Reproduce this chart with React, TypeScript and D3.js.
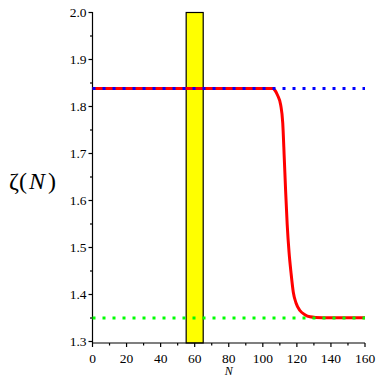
import { useRef, useEffect } from 'react';
import * as d3 from 'd3';

const W = 382;
const H = 382;

// red curve
const curveN = [0, 106.0, 107.0, 108.6, 110.5, 111.7, 112.6, 113.4, 114.3, 115.4, 116.6, 117.9, 119.5, 121.8, 124.7, 127.7, 131, 140, 160];
const curveZeta = [1.8385, 1.8383, 1.835, 1.8245, 1.803, 1.765, 1.69, 1.62, 1.55, 1.49, 1.445, 1.405, 1.382, 1.366, 1.357, 1.3525, 1.3512, 1.3505, 1.3503];

const upperLevel = 1.8385;
const lowerLevel = 1.35;
const band = [55, 65];

const xTicks = [0, 20, 40, 60, 80, 100, 120, 140, 160];
const xMinor = [10, 30, 50, 70, 90, 110, 130, 150];
const yTicks = [1.3, 1.4, 1.5, 1.6, 1.7, 1.8, 1.9, 2.0];
const yMinor = [1.35, 1.45, 1.55, 1.65, 1.75, 1.85, 1.95];

export default function App() {
  const svgRef = useRef<SVGSVGElement>(null);

  useEffect(() => {
    const svg = d3.select(svgRef.current);
    svg.selectAll('*').remove();

    const x = d3.scaleLinear().domain([0, 160]).range([92.5, 365]);
    const y = d3.scaleLinear().domain([1.3, 2.0]).range([341.5, 12.5]);
    const axisY = 343;
    const font = "'Liberation Serif', 'Times New Roman', serif";

    // yellow band
    svg.append('rect')
      .attr('x', x(band[0]))
      .attr('y', y(2.0))
      .attr('width', x(band[1]) - x(band[0]))
      .attr('height', axisY - y(2.0))
      .attr('fill', '#ffff00')
      .attr('stroke', '#000')
      .attr('stroke-width', 1.2);

    // axes
    const ax = svg.append('g').attr('stroke', '#000').attr('stroke-width', 1.2);
    ax.append('line').attr('x1', x(0)).attr('x2', x(0)).attr('y1', y(2.0) - 0.5).attr('y2', axisY);
    ax.append('line').attr('x1', x(0)).attr('x2', x(160)).attr('y1', axisY).attr('y2', axisY);

    yTicks.forEach((t) => {
      ax.append('line').attr('x1', x(0) - 4).attr('x2', x(0)).attr('y1', y(t)).attr('y2', y(t));
    });
    yMinor.forEach((t) => {
      ax.append('line').attr('x1', x(0) - 2.5).attr('x2', x(0)).attr('y1', y(t)).attr('y2', y(t));
    });
    xTicks.forEach((t) => {
      ax.append('line').attr('x1', x(t)).attr('x2', x(t)).attr('y1', axisY).attr('y2', axisY + 4);
    });
    xMinor.forEach((t) => {
      ax.append('line').attr('x1', x(t)).attr('x2', x(t)).attr('y1', axisY).attr('y2', axisY + 2.5);
    });

    svg.append('g')
      .selectAll('text')
      .data(yTicks)
      .join('text')
      .attr('x', x(0) - 6)
      .attr('y', (d) => y(d) + 4.5)
      .attr('text-anchor', 'end')
      .style('font-family', font)
      .attr('font-size', 13.5)
      .text((d) => d.toFixed(1));

    svg.append('g')
      .selectAll('text')
      .data(xTicks)
      .join('text')
      .attr('x', (d) => x(d))
      .attr('y', 362.5)
      .attr('text-anchor', 'middle')
      .style('font-family', font)
      .attr('font-size', 13.5)
      .text((d) => String(d));

    svg.append('text')
      .attr('x', x(80))
      .attr('y', 375)
      .attr('text-anchor', 'middle')
      .style('font-family', font)
      .attr('font-style', 'italic')
      .attr('font-size', 12)
      .text('N');

    const yl = svg.append('text')
      .attr('x', 9)
      .attr('y', 189)
      .style('font-family', font)
      .attr('font-size', 24);
    yl.append('tspan').text('ζ(');
    yl.append('tspan').attr('dx', 2).attr('font-style', 'italic').text('N');
    yl.append('tspan').attr('dx', 3).text(')');

    // red curve
    const pts: [number, number][] = curveN.map((n, i) => [n, curveZeta[i]]);
    const line = d3.line<[number, number]>()
      .x((d) => x(d[0]))
      .y((d) => y(d[1]))
      .curve(d3.curveMonotoneX);
    svg.append('path')
      .attr('d', line(pts))
      .attr('fill', 'none')
      .attr('stroke', '#ff0000')
      .attr('stroke-width', 3);

    // dotted levels
    const dotted = (level: number, color: string) => {
      svg.append('line')
        .attr('x1', x(0))
        .attr('x2', x(160))
        .attr('y1', y(level))
        .attr('y2', y(level))
        .attr('stroke', color)
        .attr('stroke-width', 3)
        .attr('stroke-dasharray', '3 7');
    };
    dotted(upperLevel, '#0000ff');
    dotted(lowerLevel, '#00ff00');
  }, []);

  return (
    <svg
      ref={svgRef}
      width={W}
      height={H}
      style={{ position: 'absolute', left: 0, top: 0, background: '#fff' }}
    />
  );
}
